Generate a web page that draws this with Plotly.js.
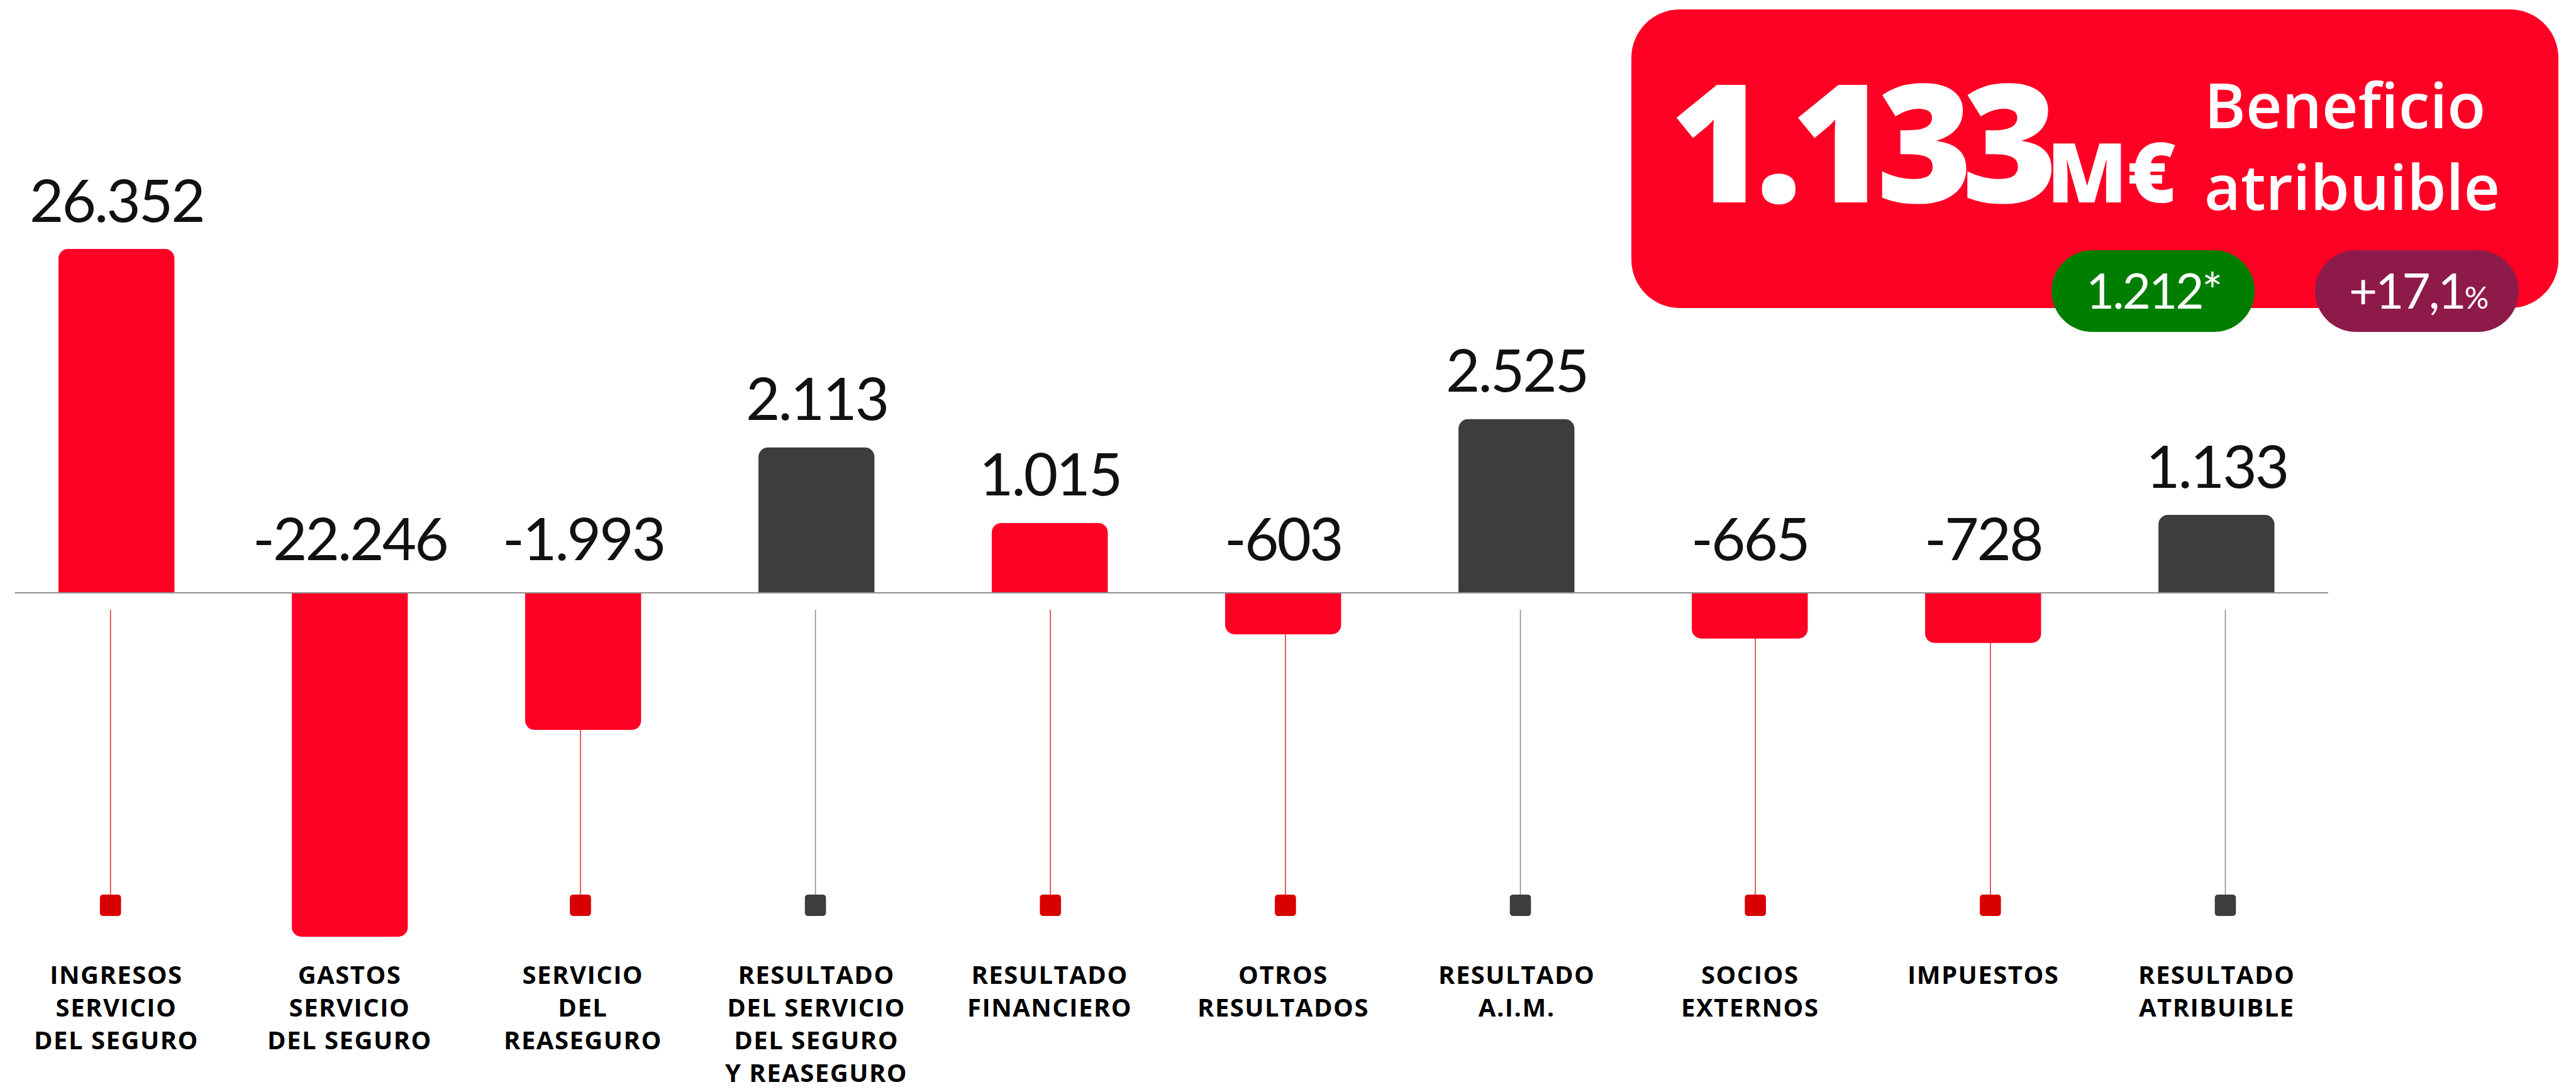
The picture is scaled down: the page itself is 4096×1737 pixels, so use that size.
<!DOCTYPE html>
<html><head><meta charset="utf-8">
<script src="https://cdn.plot.ly/plotly-3.0.1.min.js"></script>
<style>html,body{margin:0;padding:0;background:#fff;overflow:hidden}#chart{width:4096px;height:1737px}</style>
</head><body><div id="chart"></div>
<script>
// ---- data ----
const categories = [
  'INGRESOS<br>SERVICIO<br>DEL SEGURO',
  'GASTOS<br>SERVICIO<br>DEL SEGURO',
  'SERVICIO<br>DEL<br>REASEGURO',
  'RESULTADO<br>DEL SERVICIO<br>DEL SEGURO<br>Y REASEGURO',
  'RESULTADO<br>FINANCIERO',
  'OTROS<br>RESULTADOS',
  'RESULTADO<br>A.I.M.',
  'SOCIOS<br>EXTERNOS',
  'IMPUESTOS',
  'RESULTADO<br>ATRIBUIBLE'
];
const values = [26352, -22246, -1993, 2113, 1015, -603, 2525, -665, -728, 1133];
const barKinds = ['flow','flow','flow','result','flow','flow','result','flow','flow','result'];
const headlineValue = '1.133';
const headlineUnit = 'M€';
const headlineCaption = ['Beneficio', 'atribuible'];
const priorValue = '1.212*';
const growthValue = '+17,1';
const growthUnit = '%';

// ---- style ----
const W = 4096, H = 1737;
const RED = '#ff0025', DARK = '#3d3d3d';
const SQ_RED = '#d80000', SQ_DARK = '#3d3d3d';
const STEM_RED = '#dc3a3a', STEM_DARK = '#8e8e8e';
const AXIS_BREAK = 5000; // large bars are drawn broken at this height
const xRange = [-0.4992, 10.541];
const yRange = [-7258, 8620];

const idx = values.map((_, i) => i);
const heights = values.map(v => Math.sign(v) * Math.min(Math.abs(v), AXIS_BREAK));
const barColors = barKinds.map(k => k === 'flow' ? RED : DARK);

function fmt(v) {
  const s = Math.abs(v).toString().replace(/\B(?=(\d{3})+(?!\d))/g, '.');
  return (v < 0 ? '-' : '') + s;
}
const pxOfX = x => (x - xRange[0]) / (xRange[1] - xRange[0]) * W;
const pyOfY = y => (yRange[1] - y) / (yRange[1] - yRange[0]) * H;
const PX = p => p / W, PY = p => 1 - p / H;
function rrPath(x0, y0, x1, y1, r) {
  const k = 0.5523 * r;
  return `M ${PX(x0+r)} ${PY(y0)} L ${PX(x1-r)} ${PY(y0)} C ${PX(x1-r+k)} ${PY(y0)} ${PX(x1)} ${PY(y0+r-k)} ${PX(x1)} ${PY(y0+r)} ` +
    `L ${PX(x1)} ${PY(y1-r)} C ${PX(x1)} ${PY(y1-r+k)} ${PX(x1-r+k)} ${PY(y1)} ${PX(x1-r)} ${PY(y1)} ` +
    `L ${PX(x0+r)} ${PY(y1)} C ${PX(x0+r-k)} ${PY(y1)} ${PX(x0)} ${PY(y1-r+k)} ${PX(x0)} ${PY(y1-r)} ` +
    `L ${PX(x0)} ${PY(y0+r)} C ${PX(x0)} ${PY(y0+r-k)} ${PX(x0+r-k)} ${PY(y0)} ${PX(x0+r)} ${PY(y0)} Z`;
}

const shapes = [];
const annotations = [];

// axis line
shapes.push({type:'line', xref:'paper', yref:'y', x0:PX(23.6), x1:PX(3702), y0:0, y1:0,
  line:{color:'#8f8f8f', width:2}, layer:'above'});

// stems + squares
idx.forEach(i => {
  const sx = i * 1.0071 - 0.0257;
  const flow = barKinds[i] === 'flow';
  shapes.push({type:'line', xref:'x', yref:'paper', x0:sx, x1:sx, y0:PY(970), y1:PY(1424),
    line:{color: flow ? STEM_RED : STEM_DARK, width:1.6}, layer:'below'});
  const cx = pxOfX(sx);
  shapes.push({type:'path', xref:'paper', yref:'paper', path: rrPath(cx-16.8, 1423, cx+16.8, 1457, 5),
    fillcolor: flow ? SQ_RED : SQ_DARK, line:{width:0}, layer:'below'});
});

// value labels (centre of text placed above the bar end / axis)
const GAP_POS = 80, GAP_NEG = 88;
idx.forEach(i => {
  const endPx = pyOfY(Math.max(heights[i], 0));
  const cy = endPx - (values[i] >= 0 ? GAP_POS : GAP_NEG);
  annotations.push({x:i, y:PY(cy), xref:'x', yref:'paper', xanchor:'center', yanchor:'middle',
    showarrow:false, borderpad:0, borderwidth:0,
    text:`<span style="letter-spacing:-3px">${fmt(values[i])}</span>`,
    font:{family:'Lato', size:94, color:'#111', weight:400}});
});

// category labels
idx.forEach(i => {
  annotations.push({x:i, y:PY(1522), xref:'x', yref:'paper', xanchor:'center', yanchor:'top',
    align:'center', showarrow:false, borderpad:0, borderwidth:0,
    text: categories[i].split('<br>').map(l => `<span style="letter-spacing:1.5px">${l}</span>`).join('<br>'),
    font:{family:'Open Sans', size:40, color:'#000', weight:700}});
});

// headline card
shapes.push({type:'path', xref:'paper', yref:'paper', path: rrPath(2594, 15, 4068, 490, 77),
  fillcolor: RED, line:{width:0}, layer:'above'});
shapes.push({type:'path', xref:'paper', yref:'paper', path: rrPath(3262, 398, 3585, 528, 65),
  fillcolor: '#007e00', line:{width:0}, layer:'above'});
shapes.push({type:'path', xref:'paper', yref:'paper', path: rrPath(3681, 398, 4005, 528, 65),
  fillcolor: '#8e1a4a', line:{width:0}, layer:'above'});

annotations.push({x:PX(2655), y:PY(220), xref:'paper', yref:'paper', xanchor:'left', yanchor:'middle',
  showarrow:false, borderpad:0, borderwidth:0,
  text:`<span style="letter-spacing:-18px">${headlineValue}</span><span style="font-size:132px;letter-spacing:0px">${headlineUnit}</span>`,
  font:{family:'Open Sans', size:262, color:'#fff', weight:800}});
annotations.push({x:PX(3505), y:PY(97), xref:'paper', yref:'paper', xanchor:'left', yanchor:'top',
  showarrow:false, borderpad:0, borderwidth:0, align:'left',
  text: headlineCaption.join('<br>'),
  font:{family:'Open Sans', size:100, color:'#fff', weight:600}});
annotations.push({x:PX(3424), y:PY(461), xref:'paper', yref:'paper', xanchor:'center', yanchor:'middle',
  showarrow:false, borderpad:0, borderwidth:0,
  text:`<span style="letter-spacing:-3px">${priorValue}</span>`,
  font:{family:'Lato', size:78, color:'#fff', weight:400}});
annotations.push({x:PX(3846), y:PY(461), xref:'paper', yref:'paper', xanchor:'center', yanchor:'middle',
  showarrow:false, borderpad:0, borderwidth:0,
  text:`<span style="letter-spacing:-3px">${growthValue}</span><span style="font-size:48px">${growthUnit}</span>`,
  font:{family:'Lato', size:78, color:'#fff', weight:400}});

const trace = {type:'bar', x: idx, y: heights, width: 0.497,
  marker:{color: barColors, cornerradius: 15}, hoverinfo:'skip'};

const layout = {
  width: W, height: H, margin:{l:0, r:0, t:0, b:0},
  paper_bgcolor:'#fff', plot_bgcolor:'#fff', showlegend:false,
  xaxis:{range:xRange, visible:false, fixedrange:true},
  yaxis:{range:yRange, visible:false, fixedrange:true, zeroline:false, showgrid:false},
  shapes, annotations
};
Plotly.newPlot('chart', [trace], layout, {staticPlot:true, displayModeBar:false});
</script></body></html>
